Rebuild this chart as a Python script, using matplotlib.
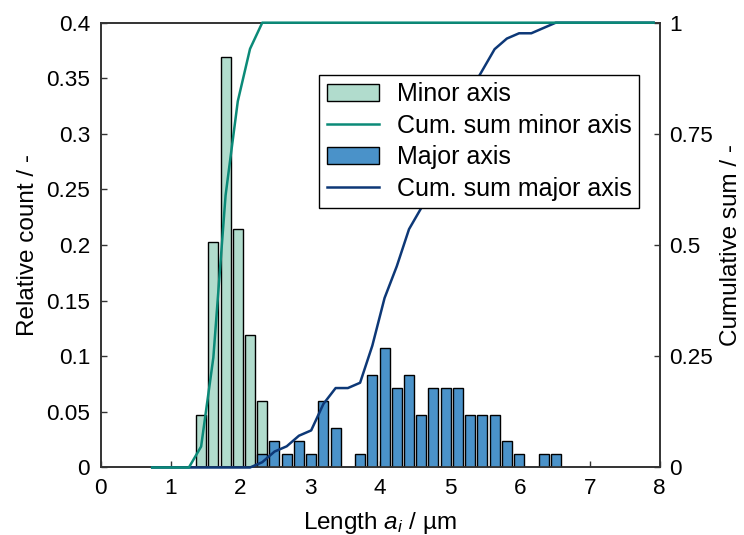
import numpy as np
import matplotlib
matplotlib.use("Agg")
import matplotlib.pyplot as plt
from matplotlib.patches import Patch
from matplotlib.lines import Line2D

plt.rcParams['font.family'] = ['Liberation Sans', 'DejaVu Sans']
plt.rcParams['mathtext.fontset'] = 'custom'
plt.rcParams['mathtext.rm'] = 'Liberation Sans'
plt.rcParams['mathtext.it'] = 'Liberation Sans:italic'

# ---- data ----
bin_start = 0.65          # first bin edge
bin_width = 0.175
n_bins = 42
n_particles = 84

# counts per bin (index = bin number)
minor_counts = np.zeros(n_bins)
minor_counts[4:10] = [4, 17, 31, 18, 10, 5]

major_counts = np.zeros(n_bins)
major_counts[9:34] = [1, 2, 1, 2, 1, 5, 3, 0, 1, 7, 9, 6, 7, 4, 6, 6, 6, 4, 4, 4, 2, 1, 0, 1, 1]

x_ticks = [0, 1, 2, 3, 4, 5, 6, 7, 8]
y_ticks = [0, 0.05, 0.1, 0.15, 0.2, 0.25, 0.3, 0.35, 0.4]
y_ticklabels = ['0', '0.05', '0.1', '0.15', '0.2', '0.25', '0.3', '0.35', '0.4']
y2_ticks = [0, 0.25, 0.5, 0.75, 1]
y2_ticklabels = ['0', '0.25', '0.5', '0.75', '1']

centers = bin_start + bin_width * (np.arange(n_bins) + 0.5)
minor_rel = minor_counts / n_particles
major_rel = major_counts / n_particles
minor_cum = np.cumsum(minor_counts) / minor_counts.sum()
major_cum = np.cumsum(major_counts) / major_counts.sum()

c_minor_bar = '#b1dccd'
c_minor_line = '#0b8a78'
c_major_bar = '#4a92c9'
c_major_line = '#0d3877'
spine_c = '#333333'

TICK_FS = 16.2
LABEL_FS = 17.5
LEG_FS = 18

fig = plt.figure(figsize=(7.44, 5.35), dpi=100)
ax = fig.add_axes([0.1353, 0.1262, 0.7514, 0.8314])
bw = 0.143
mask_min = minor_counts > 0
mask_maj = major_counts > 0
ax.bar(centers[mask_min], minor_rel[mask_min], width=bw, color=c_minor_bar,
       edgecolor='black', linewidth=1.0, zorder=2)
ax.bar(centers[mask_maj], major_rel[mask_maj], width=bw, color=c_major_bar,
       edgecolor='black', linewidth=1.0, zorder=3)
ax.set_xlim(0, 8)
ax.set_ylim(0, 0.4)
ax.set_xticks(x_ticks)
ax.set_yticks(y_ticks)
ax.set_yticklabels(y_ticklabels)
ax.tick_params(direction='in', length=4, color=spine_c, width=1, labelsize=TICK_FS, pad=7.5)
ax.set_xlabel(r'Length $a_i$ / µm', fontsize=LABEL_FS, labelpad=8)
ax.set_ylabel('Relative count / -', fontsize=LABEL_FS, labelpad=5)

ax2 = ax.twinx()
ax2.plot(centers, major_cum, color=c_major_line, lw=1.8, zorder=3, clip_on=False)
ax2.plot(centers, minor_cum, color=c_minor_line, lw=1.8, zorder=4, clip_on=False)
ax2.set_ylim(0, 1)
ax2.set_yticks(y2_ticks)
ax2.set_yticklabels(y2_ticklabels)
ax2.tick_params(direction='in', length=4, color=spine_c, width=1, labelsize=TICK_FS, pad=7)
ax2.set_ylabel('Cumulative sum / -', fontsize=LABEL_FS, labelpad=5)

for a in (ax, ax2):
    for s in a.spines.values():
        s.set_color(spine_c)
        s.set_linewidth(1.2)

handles = [Patch(facecolor=c_minor_bar, edgecolor='black', linewidth=1.0),
           Line2D([], [], color=c_minor_line, lw=1.8),
           Patch(facecolor=c_major_bar, edgecolor='black', linewidth=1.0),
           Line2D([], [], color=c_major_line, lw=1.8)]
labels = ['Minor axis', 'Cum. sum minor axis', 'Major axis', 'Cum. sum major axis']
leg = ax2.legend(handles, labels, loc='upper right', bbox_to_anchor=(0.963, 0.8825),
                 fancybox=False, framealpha=1, edgecolor='black', fontsize=LEG_FS,
                 borderpad=0.3, labelspacing=0.3, handlelength=2.1, handletextpad=0.7,
                 borderaxespad=0)
leg.get_frame().set_linewidth(1.0)

fig.savefig('out.png', dpi=100)
